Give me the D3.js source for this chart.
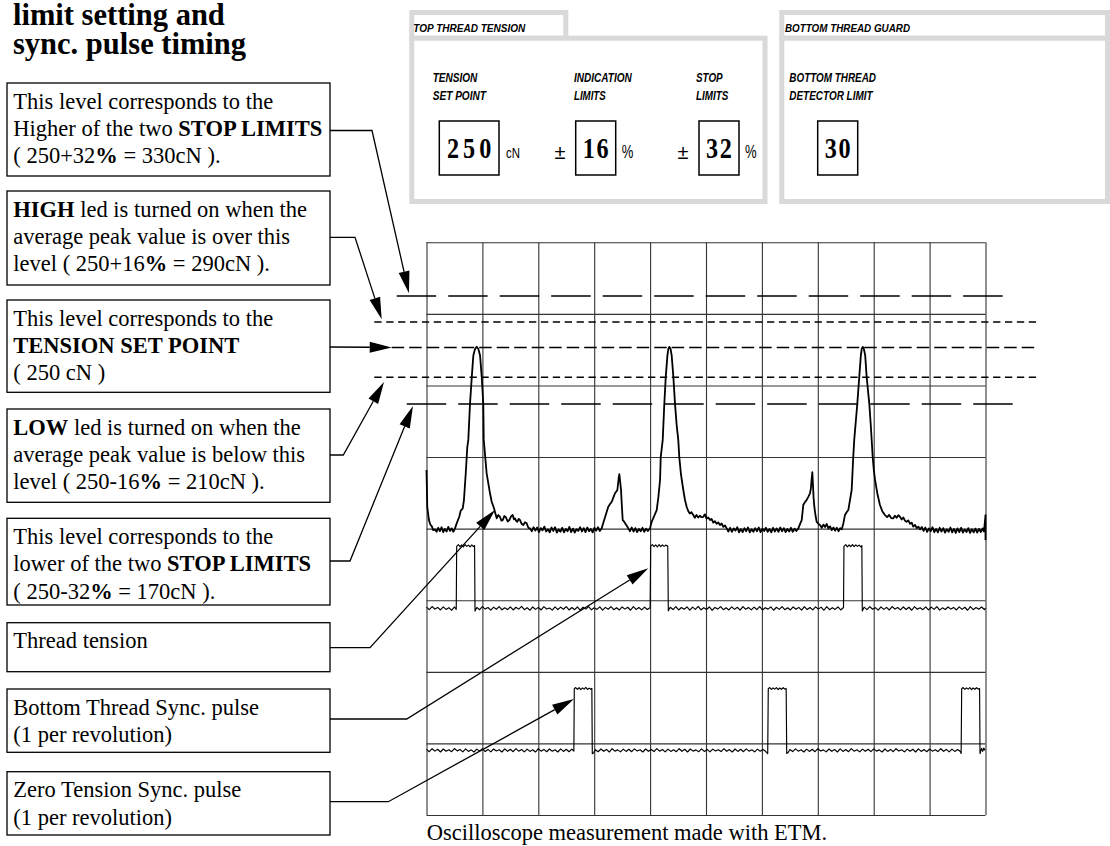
<!DOCTYPE html>
<html><head><meta charset="utf-8">
<script src="https://cdn.jsdelivr.net/npm/d3@7"></script>
<style>body{margin:0;background:#fff}svg{display:block}</style>
</head><body>
<svg id="c" width="1110" height="846"></svg>
<script>
// ---------------- DATA ----------------
const titleLines = ["limit setting and", "sync. pulse timing"];
const panelTitles = ["TOP THREAD TENSION", "BOTTOM THREAD GUARD"];
const settingLabels = [["TENSION", "SET POINT"], ["INDICATION", "LIMITS"], ["STOP", "LIMITS"], ["BOTTOM THREAD", "DETECTOR LIMIT"]];
const settingValues = [250, 16, 32, 30];
const settingPrefix = ["", "±", "±", ""];
const settingUnits = ["cN", "%", "%", ""];

const tensionLevels = [330, 290, 250, 210, 170];              // cN
const levelScreen = [362.5, 344.3, 326.6, 305.7, 287.1];     // where each level sits on the scope screen (scope units)

const callouts = [
  ["This level corresponds to the", "Higher of the two **STOP LIMITS**", "( 250+32**%** = 330cN )."],
  ["**HIGH** led is turned on when the", "average peak value is over this", "level ( 250+16**%** = 290cN )."],
  ["This level corresponds to the", "**TENSION SET POINT**", "( 250 cN )"],
  ["**LOW** led is turned on when the", "average peak value is below this", "level ( 250-16**%** = 210cN )."],
  ["This level corresponds to the", "lower of the two **STOP LIMITS**", "( 250-32**%** = 170cN )."],
  ["Thread tension"],
  ["Bottom Thread Sync. pulse", "(1 per revolution)"],
  ["Zero Tension Sync. pulse", "(1 per revolution)"]
];
// what each callout points at, in scope units [time, level]
const calloutTargets = [[-15.7,364.4],[-40.1,346.2],[-31.1,326.6],[-38,302.4],[-12.1,285.7],[61.3,213],[198.4,172.3],[131.9,81]];
const caption = "Oscilloscope measurement made with ETM.";

// scope screen: 10 x 8 divisions, 50 units per division
const timeDomain = [0, 500];
const levelDomain = [0, 400];

// Thread tension trace [time, level]
const tension = [
[0,241],[0.7,215],[2.2,206],[3.3,203],[4.7,201.8],[6,199],[7.7,199.5],[9,197.8],[10.5,200.6],[12,198.2],[13.5,201],[15,197.6],[16.5,199.8],[18,198],[19.5,201.2],[21,198.4],[22.5,200.2],[24,197.8],[25.5,200.2],
[27,203.7],[29.3,208.3],[30.6,212.5],[32.4,214.2],[33.5,220],[35.1,238.6],[36.5,257],[37.4,262],[38.9,287],[40.5,306],[41.9,321],[43.4,325.5],[44.9,327],[46.4,325.5],[47.9,321],[49.4,306],[50.8,287],[51.2,262],[53.8,238.6],[56.8,224.7],[58.3,218.8],[60.4,214.2],[61.5,211],[62.8,207.2],[64.2,209.5],[65.7,208.3],[67,205.5],[68.2,206],[69.6,208.8],[71.1,207.9],[72.6,205],[74.1,206],[75.6,208.5],[77.1,209.5],[78.2,206.5],[79.2,207.2],[80.2,205.5],[81.2,204.8],[82.4,206.8],[83.6,206],[85.1,203.4],[86.6,202.5],[88.1,204.5],[89.6,203.7],[91.1,200.6],[92.6,200.2],
[94.2,198.2],[95.8,201],[97.4,198.6],[99,200.8],[100.6,197.6],[102.2,200.4],[103.8,198.8],[105.4,201.4],[107,198],[108.6,199.6],[110.2,197.4],[111.8,200.8],[113.4,198.4],[115,201],[116.6,197.2],[118.2,199.4],[119.8,197.8],[121.4,200.6],[123,197.4],[124.6,199.8],[126.2,198.2],[127.8,201.2],[129.4,197.6],[131,200],[132.6,197.2],[134.2,199.6],[135.8,198.4],[137.4,201],[139,198],[140.6,200.4],[142.2,197.6],[143.8,200.8],[145.4,198.2],[147,199.8],[148.6,197.4],[150.2,200.6],[151.8,198.6],[153.4,201],[155,198.4],[156.7,200.2],
[158.1,204],[160.3,209.5],[162.6,215.3],[164.2,217.2],[165.7,218.8],[167.2,221.8],[168.6,224.7],[169.8,226],[170.7,227],[171.3,231],[172,236],[172.5,238],[173.2,233],[174,227],[174.8,215],[175.5,206],[176.5,205.2],[177.5,204],[179,202.2],[180.5,200.2],
[182,198.2],[183.6,200.8],[185.2,198],[186.8,200.4],[188.4,197.6],[190,199.8],[191.6,198.2],[193.2,200.6],[194.8,197.8],[196.4,200],[198,198.4],[199.9,200.2],
[201.4,204.8],[203.5,208.5],[205.9,213],[207.4,222],[208.9,234],[209.5,250],[211.3,262],[212.7,287],[214,306],[215.5,321],[216.3,325.5],[217.2,327],[218.3,325.5],[219.3,321],[220.8,306],[222.3,287],[223.8,272],[225.2,262],[226.1,250],[227.6,238],[229.7,227],[231.2,220],[232.7,215.3],[234,212.5],[235.5,210.5],[237,211.5],[238.6,209.5],[240,207.6],[241.5,209.6],[243,207.8],[244.5,209],[246,208],[247.6,208.3],[249,210],[250.5,207],[252,207.8],[253.6,206],[255,206.8],[256.5,204.2],[258,205.2],[259.5,203.4],[261,204.4],[262.5,202.5],[264,203.6],[265.5,201.2],[267,202.2],[268.5,200.2],
[270,198],[271.6,200.6],[273.2,197.8],[274.8,200.2],[276.4,198.6],[278,201],[279.6,197.4],[281.2,199.8],[282.8,197.6],[284.4,200.4],[286,198.2],[287.6,200.8],[289.2,197.4],[290.8,199.6],[292.4,197.8],[294,200.4],[295.6,198.2],[297.2,200.8],[298.8,197.6],[300.4,200],[302,198.4],[303.6,200.6],[305.2,197.8],[306.8,199.8],[308.4,197.4],[310,200.6],[311.6,198],[313.2,200.2],[314.8,197.8],[316.4,200.8],[318,198.2],[319.6,200.4],[321.2,197.6],[322.8,199.8],[324.4,198],[326,200.6],[327.6,197.8],[329.2,200],[330.8,198.4],[332.6,200.2],
[334,203],[335.6,206],[336.3,211],[337,216.5],[338.5,218.5],[340,220],[341.5,222.2],[343,224.7],[343.8,228],[344.4,234],[345.1,239.4],[345.6,232],[346.2,222],[346.9,215.3],[348,209],[349,204.8],[350.5,203.5],[352,202.5],[353.5,200.6],[355,202.8],[356.5,201.2],[358,203.2],[359.5,200.2],[361,201.6],[362.5,199],[364,200.8],[365.5,198.6],[367,200.6],[368.5,198.2],[370,200.4],[371.4,199.5],
[372.8,203.5],[374.3,209.5],[375.8,211.5],[377.3,213],[378.8,220],[380.3,227],[381.1,240],[381.7,250],[382.6,262],[384,275],[385.3,287],[387.1,306],[388.5,321],[389.3,325.5],[390.2,327],[391.2,325.5],[392.4,321],[393.7,306],[396.1,287],[397.4,272],[398.2,262],[399.1,250],[400.1,241],[401.2,234],[403.4,224],[405.6,216.5],[407.8,212],[410.1,209.5],[412,208],[413.8,209.6],[415.6,207.4],[417.5,207.2],[419,209],[420.5,207.6],[422,209.4],[423.5,208.3],[425,206.4],[426.5,207.8],[428,205.6],[429.5,204.8],[431,205.8],[432.5,203.4],[434,204.2],[435.4,201.4],[437,202.6],[438.5,200.4],[440,201.4],[441.4,199.5],
[443,201.2],[444.6,198.4],[446.2,200.8],[447.8,197.8],[449.4,200.2],[451,198.2],[452.6,201],[454.2,197.6],[455.8,199.8],[457.4,197.4],[459,200.6],[460.6,198],[462.2,200.4],[463.8,197.2],[465.4,199.6],[467,197.8],[468.6,200.8],[470.2,197.4],[471.8,199.8],[473.4,197],[475,200.2],[476.6,197.6],[478.2,200.6],[479.8,197.2],[481.4,199.4],[483,197.6],[484.6,200.4],[486.2,197],[487.8,199.6],[489.4,197.4],[491,200],[492.6,197.2],[494.2,199.8],[495.8,197.6],[497.4,200.2],[498.6,198],[499.6,206],[500,209.5],[500,192]
];

// Bottom thread sync pulse trace
const bottomSync = [
[0,145.2],[2.5,143.4],[5,145.6],[7.5,143.8],[10,145],[12.5,143.2],[15,145.4],[17.5,143.6],[20,144.8],[22.5,143],[25,145.3],[26.6,143.6],
[27,187.6],[28.5,188.8],[30,187.4],[31.5,188.6],[33,187.2],[34.5,188.9],[36,187.6],[37.5,188.5],[39,187.3],[40.5,188.7],[42,187.5],[43,188.2],[43.4,142.4],
[45,145],[47.5,143.4],[50,145.5],[52.5,143.8],[55,144.9],[57.5,143.1],[60,145.2],[62.5,143.7],[65,145.6],[67.5,143.3],[70,144.7],[72.5,143.5],[75,145.4],[77.5,143.2],[80,145.1],[82.5,143.8],[85,145.7],[87.5,143.4],[90,144.8],[92.5,143],[95,145.3],[97.5,143.6],[100,145],[102.5,143.2],[105,145.5],[107.5,143.9],[110,144.6],[112.5,143.1],[115,145.4],[117.5,143.5],[120,145.2],[122.5,143.7],[125,145.6],[127.5,143.2],[130,144.9],[132.5,143.4],[135,145.3],[137.5,143],[140,145.1],[142.5,143.8],[145,145.5],[147.5,143.3],[150,144.7],[152.5,143.6],[155,145.4],[157.5,143.1],[160,145],[162.5,143.7],[165,145.6],[167.5,143.4],[170,144.8],[172.5,143.2],[175,145.3],[177.5,143.8],[180,145.1],[182.5,143],[185,145.5],[187.5,143.6],[190,144.9],[192.5,143.3],[195,145.2],[197.5,143.5],[200,144.8],
[200.5,187.8],[202,188.8],[203.5,187.4],[205,188.6],[206.5,187.2],[208,188.9],[209.5,187.5],[211,188.7],[212.5,187.6],[214,188.5],[215.8,187.8],[216.3,142.6],
[218,145.1],[220.5,143.5],[223,145.6],[225.5,143.2],[228,144.9],[230.5,143.7],[233,145.4],[235.5,143.1],[238,145.2],[240.5,143.6],[243,145.7],[245.5,143.3],[248,144.8],[250.5,143.5],[253,145.3],[255.5,143],[258,145],[260.5,143.8],[263,145.5],[265.5,143.4],[268,144.7],[270.5,143.2],[273,145.4],[275.5,143.6],[278,145.1],[280.5,143.1],[283,145.6],[285.5,143.7],[288,144.9],[290.5,143.3],[293,145.2],[295.5,143.5],[298,145.5],[300.5,143.2],[303,144.8],[305.5,143.8],[308,145.4],[310.5,143],[313,145.1],[315.5,143.6],[318,145.6],[320.5,143.4],[323,144.7],[325.5,143.2],[328,145.3],[330.5,143.7],[333,145],[335.5,143.1],[338,145.5],[340.5,143.5],[343,144.9],[345.5,143.3],[348,145.4],[350.5,143.8],[353,145.2],[355.5,143],[358,145.6],[360.5,143.4],[363,144.8],[365.5,143.6],[368,145.3],[370.5,143.2],[373,144.9],
[373.4,187.6],[375,188.8],[376.5,187.3],[378,188.6],[379.5,187.5],[381,188.9],[382.5,187.4],[384,188.7],[385.5,187.6],[387,188.5],[388.5,187.3],[389.4,188.2],[389.8,142.5],
[391.5,145.2],[394,143.4],[396.5,145.5],[399,143.7],[401.5,144.8],[404,143.1],[406.5,145.4],[409,143.6],[411.5,145],[414,143.2],[416.5,145.6],[419,143.8],[421.5,144.9],[424,143.3],[426.5,145.3],[429,143.5],[431.5,145.1],[434,143],[436.5,145.5],[439,143.7],[441.5,144.8],[444,143.4],[446.5,145.4],[449,143.2],[451.5,145.2],[454,143.6],[456.5,145.6],[459,143.1],[461.5,144.7],[464,143.5],[466.5,145.3],[469,143.8],[471.5,145],[474,143.2],[476.5,145.4],[479,143.6],[481.5,145.1],[484,143],[486.5,145.5],[489,143.4],[491.5,144.9],[494,143.7],[496.5,145.3],[499,143.5],[500,144.6]
];

// Zero tension sync pulse trace
const zeroSync = [
[0,45.8],[2.5,44.2],[5,46.3],[7.5,44.6],[10,45.9],[12.5,44],[15,46.1],[17.5,44.5],[20,45.6],[22.5,44.2],[25,46.4],[27.5,44.8],[30,45.7],[32.5,44.1],[35,46.2],[37.5,44.4],[40,45.5],[42.5,44],[45,46],[47.5,44.6],[50,46.3],[52.5,44.3],[55,45.8],[57.5,44.1],[60,46.1],[62.5,44.7],[65,45.6],[67.5,44],[70,46.2],[72.5,44.5],[75,45.9],[77.5,44.2],[80,46.4],[82.5,44.6],[85,45.7],[87.5,44.1],[90,46],[92.5,44.4],[95,45.6],[97.5,44],[100,46.3],[102.5,44.6],[105,45.8],[107.5,44.2],[110,46.1],[112.5,44.5],[115,45.6],[117.5,44],[120,46.2],[122.5,44.4],[125,45.9],[127.5,44.2],[130,46],[131.8,44.6],
[132.2,88.2],[133.5,89],[135,87.8],[136.5,88.9],[138,87.6],[139.5,88.8],[141,87.9],[142.5,89.1],[144,87.7],[145.5,88.6],[147,87.8],[147.9,88.4],[148.3,42.8],[149.5,43.4],
[151,45.6],[153.5,44.2],[156,46.1],[158.5,44.5],[161,45.8],[163.5,44],[166,46.3],[168.5,44.6],[171,45.5],[173.5,44.1],[176,46],[178.5,44.4],[181,45.9],[183.5,44.2],[186,46.2],[188.5,44.7],[191,45.6],[193.5,44],[196,46.1],[198.5,44.5],[201,45.8],[203.5,44.3],[206,46.4],[208.5,44.6],[211,45.7],[213.5,44.1],[216,46],[218.5,44.4],[221,45.6],[223.5,44.2],[226,46.3],[228.5,44.5],[231,45.9],[233.5,44],[236,46.1],[238.5,44.6],[241,45.5],[243.5,44.2],[246,46.2],[248.5,44.4],[251,45.8],[253.5,44.1],[256,46],[258.5,44.7],[261,45.6],[263.5,44.3],[266,46.4],[268.5,44.5],[271,45.7],[273.5,44],[276,46.1],[278.5,44.4],[281,45.9],[283.5,44.2],[286,46.2],[288.5,44.6],[291,45.6],[293.5,44.1],[296,46],[298.5,44.5],[301,45.8],[303.5,44.3],[305.2,42.9],
[305.7,88.2],[307,89],[308.5,87.7],[310,88.8],[311.5,87.9],[313,89],[314.5,87.6],[316,88.7],[317.5,87.8],[319,88.9],[320.5,87.9],[321.7,88.4],[322.2,43],[323.5,43.6],
[325,45.7],[327.5,44.3],[330,46.2],[332.5,44.6],[335,45.6],[337.5,44],[340,46],[342.5,44.4],[345,45.9],[347.5,44.2],[350,46.3],[352.5,44.7],[355,45.5],[357.5,44.1],[360,46.1],[362.5,44.5],[365,45.8],[367.5,44],[370,46.2],[372.5,44.4],[375,45.7],[377.5,44.2],[380,46.4],[382.5,44.6],[385,45.6],[387.5,44.1],[390,46],[392.5,44.5],[395,45.9],[397.5,44.3],[400,46.2],[402.5,44.6],[405,45.5],[407.5,44],[410,46.1],[412.5,44.4],[415,45.8],[417.5,44.2],[420,46.3],[422.5,44.7],[425,45.6],[427.5,44.1],[430,46],[432.5,44.5],[435,45.9],[437.5,44],[440,46.2],[442.5,44.4],[445,45.7],[447.5,44.2],[450,46.1],[452.5,44.6],[455,45.6],[457.5,44.3],[460,46.3],[462.5,44.5],[465,45.8],[467.5,44.1],[470,46],[472.5,44.4],[475,45.7],[477.5,44.3],[478.2,43],
[478.7,88.2],[480,89],[481.5,87.7],[483,88.8],[484.5,87.9],[486,89],[487.5,87.6],[489,88.7],[490.5,87.8],[492,88.9],[493.5,87.9],[494.7,88.4],[495.1,42.9],[496.5,46.5],[497.5,44.5],[498.5,46.8],[499.6,45]
];

// ---------------- DRAWING ----------------
const svg = d3.select("#c");
const serif = "'Liberation Serif','Times New Roman',serif";
const sans = "'Liberation Sans',Arial,sans-serif";

const x = d3.scaleLinear().domain(timeDomain).range([426.5, 985.5]);
const y = d3.scaleLinear().domain(levelDomain).range([815, 242.3]);

// Title
svg.selectAll("text.title").data(titleLines).join("text")
  .attr("x", 13).attr("y", (d, i) => 24.5 + i * 29.3)
  .attr("font-family", serif).attr("font-weight", "bold").attr("font-size", 30.5)
  .text(d => d);

// ---- Setting panels ----
const grey = "#d9d9d9";
const panels = [
  {tab: [411.8, 12.5, 154, 25.7], body: [411.8, 38.2, 353.2, 163.3], title: [413.3, 112]},
  {tab: [781.8, 12.5, 325.7, 25.7], body: [781.8, 38.2, 325.7, 163.3], title: [785, 125]}
];
panels.forEach((p, i) => {
  svg.append("rect").attr("x", p.tab[0]).attr("y", p.tab[1]).attr("width", p.tab[2]).attr("height", p.tab[3])
    .attr("fill", "#fff").attr("stroke", grey).attr("stroke-width", 5);
  svg.append("rect").attr("x", p.body[0]).attr("y", p.body[1]).attr("width", p.body[2]).attr("height", p.body[3])
    .attr("fill", "#fff").attr("stroke", grey).attr("stroke-width", 5);
  svg.append("text").attr("x", p.title[0]).attr("y", 31.7)
    .attr("font-family", sans).attr("font-weight", "bold").attr("font-style", "italic").attr("font-size", 11.8)
    .attr("textLength", p.title[1]).attr("lengthAdjust", "spacingAndGlyphs").text(panelTitles[i]);
});

const labelLayout = [
  {x: 432.7, w: [44.7, 53.3]}, {x: 574, w: [57.7, 31.7]}, {x: 696, w: [26.7, 32.3]}, {x: 789.3, w: [86.7, 83.3]}
];
const boxLayout = [
  {x0: 439.3, x1: 499, ls: 5, pre: null, unit: [506, 14]},
  {x0: 575.7, x1: 615.7, ls: 2, pre: 560, unit: [621.7, 11.6]},
  {x0: 699, x1: 739, ls: 2, pre: 683, unit: [745, 11.6]},
  {x0: 817.7, x1: 857.7, ls: 2, pre: null, unit: null}
];
settingLabels.forEach((lab, i) => {
  const L = labelLayout[i];
  lab.forEach((t, j) => {
    svg.append("text").attr("x", L.x).attr("y", 81.7 + j * 18.3)
      .attr("font-family", sans).attr("font-weight", "bold").attr("font-style", "italic").attr("font-size", 12.8)
      .attr("textLength", L.w[j]).attr("lengthAdjust", "spacingAndGlyphs").text(t);
  });
  const B = boxLayout[i];
  svg.append("rect").attr("x", B.x0).attr("y", 121).attr("width", B.x1 - B.x0).attr("height", 54)
    .attr("fill", "none").attr("stroke", "#000").attr("stroke-width", 1.5);
  svg.append("text")
    .attr("transform", `translate(${(B.x0 + B.x1) / 2},158.3) scale(0.82,1)`)
    .attr("x", 0).attr("dx", B.ls / 2).attr("text-anchor", "middle")
    .style("letter-spacing", B.ls + "px")
    .attr("font-family", serif).attr("font-weight", "bold").attr("font-size", 29.5)
    .text(String(settingValues[i]));
  if (settingPrefix[i]) {
    svg.append("text").attr("x", B.pre).attr("y", 158.5).attr("text-anchor", "middle")
      .attr("font-family", sans).attr("font-size", 20).text(settingPrefix[i]);
  }
  if (settingUnits[i]) {
    const isPct = settingUnits[i] === "%";
    svg.append("text").attr("x", B.unit[0]).attr("y", 158)
      .attr("font-family", sans).attr("font-size", isPct ? 18.5 : 14.5)
      .attr("textLength", B.unit[1]).attr("lengthAdjust", "spacingAndGlyphs").text(settingUnits[i]);
  }
});

// ---- Oscilloscope screen ----
const plot = svg.append("g");
const W = x(500) - x(0), H = y(0) - y(400);
const gridStroke = "#333";
const vAxis = d3.axisBottom(x).tickValues(d3.range(0, 501, 50)).tickSize(H).tickFormat("");
plot.append("g").attr("transform", `translate(0,${y(400)})`).call(vAxis)
  .call(g => g.select(".domain").remove())
  .call(g => g.selectAll(".tick line").attr("stroke", gridStroke).attr("stroke-width", 1.1));
const hAxis = d3.axisLeft(y).tickValues(d3.range(0, 401, 50)).tickSize(-W).tickFormat("");
plot.append("g").attr("transform", `translate(${x(0)},0)`).call(hAxis)
  .call(g => g.select(".domain").remove())
  .call(g => g.selectAll(".tick line").attr("stroke", gridStroke).attr("stroke-width", 1.1));

// Tension limit levels
const levelExtent = [[396.7, 1004], [374.3, 1039], [391.7, 1039], [374.3, 1039], [406.7, 1013.3]];
const levelDash = ["39.5,12", "7.3,4.6", "12.5,5", "7.3,4.6", "39.5,12"];
plot.selectAll("line.level").data(levelScreen).join("line")
  .attr("x1", (d, i) => levelExtent[i][0]).attr("x2", (d, i) => levelExtent[i][1])
  .attr("y1", d => y(d)).attr("y2", d => y(d))
  .attr("stroke", "#000").attr("stroke-width", 1.5)
  .attr("stroke-dasharray", (d, i) => levelDash[i]);

// Traces
const line = d3.line().x(d => x(d[0])).y(d => y(d[1]));
[[tension, 1.8], [bottomSync, 1.15], [zeroSync, 1.15]].forEach(([data, w]) => {
  plot.append("path").attr("d", line(data)).attr("fill", "none")
    .attr("stroke", "#000").attr("stroke-width", w).attr("stroke-linejoin", "round");
});

// ---- Callout boxes ----
const boxY = [[83,176],[191,285],[300,392.3],[409,502.3],[518.3,605],[622.7,671.7],[689,752.3],[771.7,835]];
const leaderCorner = [[372,130.5],[355,237.3],[330,347],[343.3,455],[350,561],[370,647.7],[406.7,719],[388.3,801.7]];
callouts.forEach((lines, i) => {
  const [t, b] = boxY[i];
  svg.append("rect").attr("x", 7).attr("y", t).attr("width", 323).attr("height", b - t)
    .attr("fill", "#fff").attr("stroke", "#000").attr("stroke-width", 1.3);
  lines.forEach((ln, j) => {
    const tx = svg.append("text").attr("x", 13.3).attr("y", t + 25.7 + j * 27.3)
      .attr("font-family", serif).attr("font-size", 22.5).attr("xml:space", "preserve");
    ln.split("**").forEach((seg, k) => {
      if (seg) tx.append("tspan").attr("font-weight", k % 2 ? "bold" : "normal").text(seg);
    });
  });
  // leader with arrow
  const c = leaderCorner[i];
  const tip = [x(calloutTargets[i][0]), y(calloutTargets[i][1])];
  const dx = tip[0] - c[0], dy = tip[1] - c[1], Ln = Math.hypot(dx, dy);
  const ux = dx / Ln, uy = dy / Ln, al = 22, aw = 5.5;
  const base = [tip[0] - ux * al, tip[1] - uy * al];
  svg.append("path").attr("d", d3.line()([[330, c[1]], c, base])).attr("fill", "none")
    .attr("stroke", "#000").attr("stroke-width", 1.3);
  svg.append("path").attr("d", d3.line()([tip, [base[0] - uy * aw, base[1] + ux * aw], [base[0] + uy * aw, base[1] - ux * aw]]) + "Z")
    .attr("fill", "#000");
});

// Caption
svg.append("text").attr("x", 426.7).attr("y", 840).attr("font-family", serif).attr("font-size", 22.5).text(caption);
</script>
</body></html>
